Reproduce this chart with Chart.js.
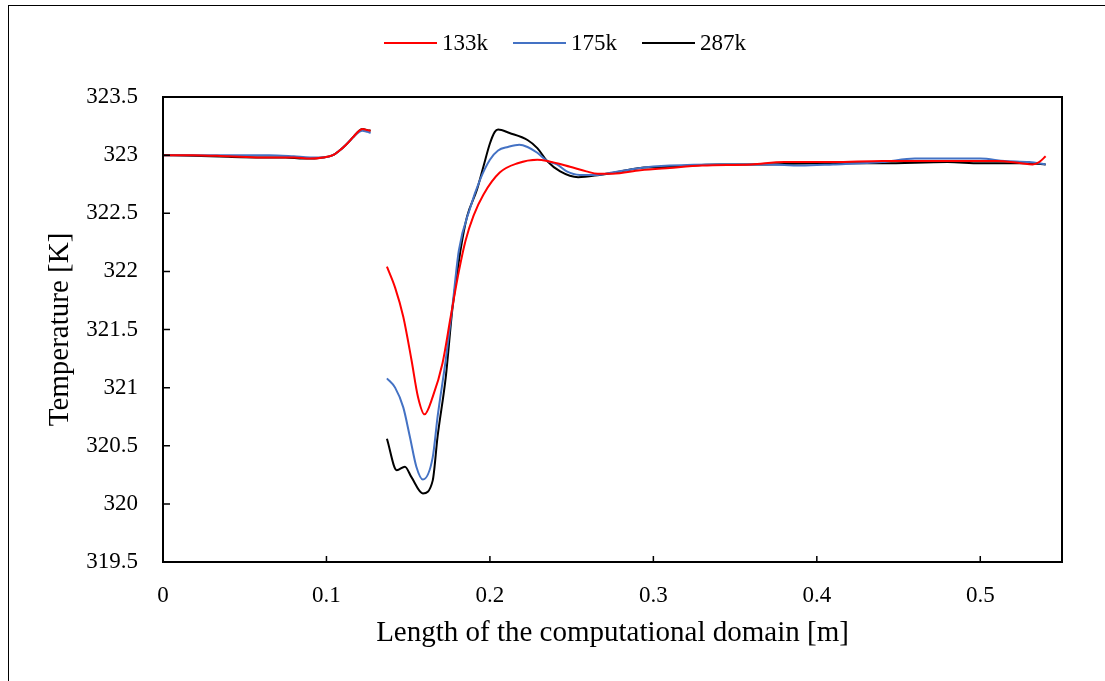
<!DOCTYPE html>
<html>
<head>
<meta charset="utf-8">
<title>Temperature along the computational domain</title>
<script src="https://cdn.jsdelivr.net/npm/chart.js@4.4.1/dist/chart.umd.min.js"></script>
<style>
  html, body { margin: 0; padding: 0; background: #fff; overflow: hidden; }
  .frame {
    position: absolute; left: 8px; top: 5px;
    width: 1300px; height: 900px;
    border: 1.5px solid #000;
  }
  .wrap { position: absolute; left: 0; top: 0; width: 1105px; height: 681px; }
</style>
</head>
<body>
<div class="frame"></div>
<div class="wrap"><canvas id="tempChart"></canvas></div>

<script>
// ── Data (x in m, T in K) ────────────────────────────────────
const seriesLabels = ['133k', '175k', '287k'];
const seriesColors = ['#ff0000', '#4472c4', '#000000'];

// gap between the two parts of the domain
const gapX = 0.132;

const redX = [0, 0.018, 0.04, 0.06, 0.08, 0.09, 0.098, 0.104, 0.108, 0.112, 0.116, 0.12, 0.122, 0.125, 0.127,
  0.137, 0.142, 0.147, 0.152, 0.156, 0.160, 0.165, 0.171, 0.176, 0.181, 0.185, 0.190, 0.196, 0.206, 0.217,
  0.229, 0.235, 0.249, 0.259, 0.266, 0.275, 0.292, 0.31, 0.33, 0.36, 0.38, 0.41, 0.44, 0.48, 0.51, 0.525,
  0.532, 0.536, 0.54];
const redY = [323.0, 323.0, 322.99, 322.98, 322.98, 322.97, 322.98, 323.0, 323.04, 323.09, 323.15, 323.21, 323.225, 323.215, 323.21,
  322.04, 321.86, 321.61, 321.24, 320.92, 320.77, 320.92, 321.21, 321.61, 322.0, 322.26, 322.48, 322.66, 322.85, 322.93,
  322.96, 322.95, 322.9, 322.86, 322.84, 322.84, 322.87, 322.89, 322.91, 322.92, 322.94, 322.94, 322.95, 322.95, 322.95, 322.93,
  322.92, 322.94, 322.99];

const blueX = [0, 0.018, 0.04, 0.065, 0.08, 0.09, 0.098, 0.104, 0.108, 0.112, 0.116, 0.12, 0.122, 0.125, 0.127,
  0.137, 0.142, 0.147, 0.151, 0.155, 0.159, 0.165, 0.168, 0.173, 0.177, 0.181, 0.188, 0.194, 0.2, 0.205,
  0.211, 0.218, 0.223, 0.229, 0.235, 0.241, 0.247, 0.255, 0.266, 0.275, 0.292, 0.31, 0.34, 0.37, 0.39,
  0.41, 0.44, 0.46, 0.49, 0.5, 0.515, 0.53, 0.54];
const blueY = [323.0, 323.0, 323.0, 323.0, 322.99, 322.98, 322.98, 323.0, 323.04, 323.09, 323.15, 323.2, 323.21, 323.2, 323.19,
  321.08, 321.0, 320.83, 320.58, 320.32, 320.21, 320.4, 320.75, 321.24, 321.69, 322.18, 322.55, 322.79, 322.96, 323.04,
  323.07, 323.09, 323.07, 323.02, 322.95, 322.92, 322.86, 322.83, 322.83, 322.85, 322.89, 322.91, 322.92, 322.92, 322.91,
  322.92, 322.94, 322.97, 322.97, 322.97, 322.95, 322.94, 322.92];

const blackX = [0, 0.018, 0.04, 0.06, 0.075, 0.086, 0.098, 0.104, 0.108, 0.112, 0.116, 0.12, 0.122, 0.125, 0.127,
  0.137, 0.143, 0.148, 0.152, 0.159, 0.165, 0.168, 0.173, 0.177, 0.182, 0.186, 0.192, 0.196, 0.2, 0.203,
  0.205, 0.212, 0.223, 0.229, 0.235, 0.243, 0.254, 0.267, 0.28, 0.292, 0.31, 0.34, 0.37, 0.4, 0.44,
  0.48, 0.5, 0.53, 0.54];
const blackY = [323.0, 322.995, 322.985, 322.98, 322.98, 322.97, 322.98, 323.0, 323.04, 323.09, 323.15, 323.21, 323.225, 323.215, 323.21,
  320.56, 320.29, 320.32, 320.23, 320.09, 320.2, 320.58, 321.09, 321.67, 322.18, 322.47, 322.7, 322.9, 323.1, 323.2,
  323.22, 323.19, 323.13, 323.06, 322.95, 322.86, 322.81, 322.83, 322.86, 322.89, 322.9, 322.92, 322.92, 322.93, 322.93,
  322.94, 322.93, 322.93, 322.92];

const xTicks = [0, 0.1, 0.2, 0.3, 0.4, 0.5];
const yTicks = [319.5, 320, 320.5, 321, 321.5, 322, 322.5, 323, 323.5];

const FONT = '"Liberation Serif", "Times New Roman", serif';

// ── Build {x,y} points with a null break in the gap ─────────
function toPoints(xs, ys) {
  const pts = [];
  xs.forEach((x, i) => {
    if (i > 0 && xs[i - 1] < gapX && x > gapX) pts.push({ x: gapX, y: null });
    pts.push({ x, y: ys[i] });
  });
  return pts;
}

// ── Frame, inward tick marks and legend ─────────────────────
const framePlugin = {
  id: 'frame',
  afterDraw(chart) {
    const { ctx, chartArea: a, scales } = chart;
    ctx.save();
    ctx.strokeStyle = '#000';

    ctx.lineWidth = 1.5;
    ctx.beginPath();
    xTicks.forEach(v => {
      const px = scales.x.getPixelForValue(v);
      if (px <= a.left + 1) return;
      ctx.moveTo(px, a.bottom);
      ctx.lineTo(px, a.bottom - 6);
    });
    yTicks.forEach(v => {
      const py = scales.y.getPixelForValue(v);
      if (py >= a.bottom - 1 || py <= a.top + 1) return;
      ctx.moveTo(a.left, py);
      ctx.lineTo(a.left + 7, py);
    });
    ctx.stroke();

    ctx.lineWidth = 2;
    ctx.strokeRect(a.left, a.top, a.right - a.left, a.bottom - a.top);

    // legend
    ctx.font = '23px ' + FONT;
    ctx.textBaseline = 'middle';
    const lineLen = 53, gapTxt = 5, gapItem = 25, yMid = 43;
    const widths = chart.data.datasets.map(d => lineLen + gapTxt + ctx.measureText(d.label).width);
    const total = widths.reduce((s, w) => s + w, 0) + gapItem * (widths.length - 1);
    let x = 565 - total / 2;
    chart.data.datasets.forEach((d, i) => {
      ctx.strokeStyle = d.borderColor;
      ctx.lineWidth = 2;
      ctx.beginPath();
      ctx.moveTo(x, yMid);
      ctx.lineTo(x + lineLen, yMid);
      ctx.stroke();
      ctx.fillStyle = '#000';
      ctx.textAlign = 'left';
      ctx.fillText(d.label, x + lineLen + gapTxt, yMid + 1);
      x += widths[i] + gapItem;
    });
    ctx.restore();
  }
};

// ── Chart ────────────────────────────────────────────────────
const allX = [redX, blueX, blackX];
const allY = [redY, blueY, blackY];

new Chart(document.getElementById('tempChart').getContext('2d'), {
  type: 'line',
  data: {
    datasets: seriesLabels.map((label, i) => ({
      label,
      data: toPoints(allX[i], allY[i]),
      borderColor: seriesColors[i],
      borderWidth: 2,
      pointRadius: 0,
      fill: false,
      spanGaps: false,
      cubicInterpolationMode: 'monotone'
    }))
  },
  options: {
    responsive: true,
    maintainAspectRatio: false,
    animation: false,
    layout: { padding: { left: 0, right: 43, top: 97, bottom: 0 } },
    plugins: {
      legend: { display: false },
      tooltip: { enabled: false }
    },
    scales: {
      x: {
        type: 'linear',
        min: 0,
        max: 0.55,
        grid: { display: false, drawTicks: false },
        border: { display: false },
        afterFit: s => { s.height = 119; },
        afterBuildTicks: s => { s.ticks = xTicks.map(v => ({ value: v })); },
        ticks: {
          padding: 20,
          color: '#000',
          font: { family: FONT, size: 23 },
          callback: v => String(v)
        },
        title: {
          display: true,
          text: 'Length of the computational domain [m]',
          color: '#000',
          font: { family: FONT, size: 29 },
          padding: { top: 0, bottom: 30 }
        }
      },
      y: {
        min: 319.5,
        max: 323.5,
        grid: { display: false, drawTicks: false },
        border: { display: false },
        afterFit: s => { s.width = 163; },
        afterBuildTicks: s => { s.ticks = yTicks.map(v => ({ value: v })); },
        ticks: {
          padding: 25,
          color: '#000',
          font: { family: FONT, size: 23 },
          callback: v => String(v)
        },
        title: {
          display: true,
          text: 'Temperature [K]',
          color: '#000',
          font: { family: FONT, size: 29 },
          padding: { top: 43, bottom: 0 }
        }
      }
    }
  },
  plugins: [framePlugin]
});
</script>
</body>
</html>
